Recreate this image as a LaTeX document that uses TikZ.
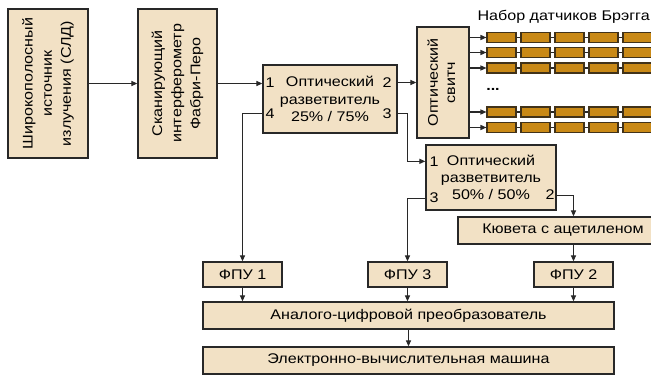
\documentclass[tikz,border=0pt]{standalone}
\usepackage{fontspec}
\setmainfont{Liberation Sans}[FakeStretch=1.15]
\usetikzlibrary{arrows.meta,calc}
\definecolor{ink}{RGB}{40,40,40}
\definecolor{cBox}{RGB}{242,225,197}
\definecolor{cFbg}{RGB}{201,137,22}
\definecolor{cFbgEdge}{RGB}{65,50,25}
\newcommand{\vtext}[2][1]{\rotatebox{90}{\renewcommand\arraystretch{#1}\begin{tabular}{@{}c@{}}#2\end{tabular}}}

\begin{document}
\begin{tikzpicture}[
  x=0.75pt, y=-0.75pt,
  font=\fontsize{10.5}{13}\selectfont,
  >={Triangle[length=4.5pt,width=3.8pt]},
  box/.style={draw=ink, line width=1pt, fill=cBox, inner sep=0pt, align=center},
  port/.style={inner sep=0pt},
  fbg/.style={draw=cFbgEdge, line width=0.8pt, fill=cFbg, minimum width=21.75pt, minimum height=7.5pt, inner sep=0pt},
  link/.style={->, draw=ink, line width=0.9pt},
]
\useasboundingbox (0,0) rectangle (651,375);
\clip (0,0) rectangle (651,375);

% ---- source and interferometer ----
\node[box, minimum width=60pt, minimum height=111.75pt] (SRC) at (48,83.5)
  {\vtext[1.1]{Широкополосный\\источник\\излучения (СЛД)}};
\node[box, minimum width=59.25pt, minimum height=111.75pt] (IFP) at (177.5,83.5)
  {\vtext[1.1]{Сканирующий\\интерферометр\\Фабри-Перо}};

% ---- first splitter ----
\node[box, minimum width=100.5pt, minimum height=51pt] (SPL1) at (330,99)
  {Оптический\\разветвитель\\25\% / 75\%\hspace{5pt}};
\node[port] (P11) at (270,83) {1};
\node[port] (P14) at (270,114) {4};
\node[port] (P12) at (387,83) {2};
\node[port] (P13) at (387,114) {3};

% ---- switch and the Bragg gratings ----
\node[box, minimum width=39pt, minimum height=83.25pt] (SW) at (443,82.5)
  {\vtext{Оптический\\свитч}};
\node[anchor=east, inner sep=0pt] (TTL) at (650,17) {Набор датчиков Брэгга};
\node[inner sep=0pt] (DOTS) at (493,89) {\textbf{...}};

\foreach \r/\y in {1/37.5,2/52.5,3/68,4/112,5/127.5}{
  \foreach \c in {1,...,5}
    \node[fbg] (g\r\c) at ({501.5+34*(\c-1)},\y) {};
  \draw[link] (SW.east |- g\r1.west) -- (g\r1.west);
  \foreach \c [evaluate=\c as \n using int(\c+1)] in {1,...,4}
    \draw[ink, line width=0.8pt] (g\r\c.east) -- (g\r\n.west);
}

% ---- second splitter and the cell ----
\node[box, minimum width=97.5pt, minimum height=48.75pt] (SPL2) at (491,177.5)
  {Оптический\\разветвитель\\50\% / 50\%};
\node[port] (P21) at (434,162) {1};
\node[port] (P23) at (434,198) {3};
\node[port] (P22) at (550,195) {2};
\node[box, minimum width=157.5pt, minimum height=20.25pt] (CUV) at (563,230.5)
  {Кювета с ацетиленом};

% ---- photodetectors, ADC, computer ----
\node[box, minimum width=59.25pt, minimum height=18.75pt] (FPU1) at (242.5,274.5) {ФПУ 1};
\node[box, minimum width=59.25pt, minimum height=18.75pt] (FPU3) at (407.5,274.5) {ФПУ 3};
\node[box, minimum width=59.25pt, minimum height=18.75pt] (FPU2) at (573.5,274.5) {ФПУ 2};
\node[box, minimum width=308.25pt, minimum height=20.25pt] (ADC) at (408.5,315.5)
  {Аналого-цифровой преобразователь};
\node[box, minimum width=308.25pt, minimum height=20.25pt] (PC) at (408.5,360.5)
  {Электронно-вычислительная машина};

% ============ arrows ============
\draw[link] (SRC.east) -- (IFP.west);
\draw[link] (IFP.east) -- (IFP.east -| SPL1.west);
\draw[link] (SW.west -| SPL1.east) -- (SW.west);

\draw[link] ([yshift=15pt]SPL1.south west) -| (FPU1.north);
\coordinate (in2) at ([yshift=-12.75pt]SPL2.north west);
\draw[link] ([yshift=15pt]SPL1.south east) -| (FPU3.north |- in2) -- (in2);

\draw[link] ([yshift=9pt]SPL2.south west) -| (FPU3.north);
\draw[link] ([yshift=11.25pt]SPL2.south east) -| (FPU2.north |- CUV.north);
\draw[link] (FPU2.north |- CUV.south) -- (FPU2.north);

\foreach \f in {FPU1,FPU3,FPU2}
  \draw[link] (\f.south) -- (\f.south |- ADC.north);
\draw[link] (ADC.south) -- (PC.north);

\end{tikzpicture}
\end{document}
